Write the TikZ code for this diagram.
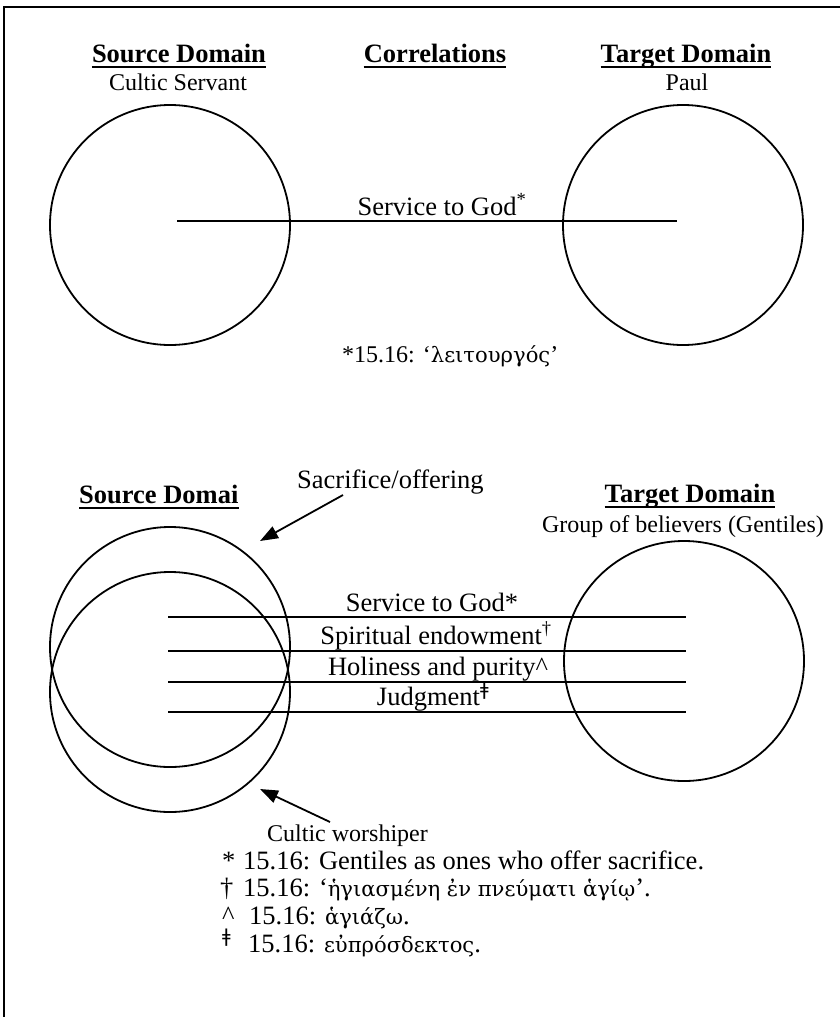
\documentclass[tikz,border=0pt]{standalone}
\usepackage{fontspec}
\setmainfont{Liberation Serif}
\newfontfamily\grk{DejaVu Serif}[Scale=0.88]
\newfontfamily\symfont{DejaVu Sans}
\newcommand\caret{\char"5E\relax}
\newcommand\gk[1]{{\fontsize{24}{28}\selectfont\grk #1}}
\usetikzlibrary{arrows.meta}

\begin{document}
\begin{tikzpicture}[x=1pt,y=-1pt,
  hdr/.style={font=\fontsize{26.5}{30}\selectfont\bfseries, inner sep=0pt, anchor=base},
  subhdr/.style={font=\fontsize{24}{28}\selectfont, inner sep=0pt, anchor=base},
  corr/.style={font=\fontsize{26.5}{30}\selectfont, inner sep=0pt, anchor=base},
  note/.style={font=\fontsize{26.5}{30}\selectfont, inner sep=0pt, anchor=base west},
  smallnote/.style={font=\fontsize{24}{28}\selectfont, inner sep=0pt, anchor=base west},
  ring/.style={draw, circle, minimum size=240pt, line width=1.8pt, inner sep=0pt},
  link/.style={line width=2.4pt},
  pointer/.style={line width=1.8pt, -{Triangle[length=18pt,width=13pt]}},
  uline/.style={line width=2pt}
]
\useasboundingbox (0,0) rectangle (840,1017);

% frame (left and top edges)
\draw[line width=2pt] (4,1017) -- (4,7) -- (840,7);

% ---------- upper mapping ----------
\node[hdr] (srcA) at (179,62) {Source Domain};
\draw[uline] ([yshift=-5pt]srcA.base west) -- ([yshift=-5pt]srcA.base east);
\node[subhdr] (srcAsub) at (178,90) {Cultic Servant};

\node[hdr] (corrA) at (435,62) {Correlations};
\draw[uline] ([yshift=-5pt]corrA.base west) -- ([yshift=-5pt]corrA.base east);

\node[hdr] (tgtA) at (686,62) {Target Domain};
\draw[uline] ([yshift=-5pt]tgtA.base west) -- ([yshift=-5pt]tgtA.base east);
\node[subhdr] (tgtAsub) at (687,90) {Paul};

\node[ring] (cultic) at (170,225) {};
\node[ring] (paul) at (683,225) {};

\coordinate (la) at (177,221);
\coordinate (lb) at (677,221);
\draw[link] (la) -- (lb);
\node[corr] (svcA) at (442,215) {Service to God\textsuperscript{*}};

\node[smallnote] (noteA) at (342,362) {*15.16: ‘{\grk λειτουργός}’};

% ---------- lower mapping ----------
\node[hdr, anchor=base west] (srcB) at (79,503) {Source Domai};
\draw[uline] ([yshift=-5pt]srcB.base west) -- ([yshift=-5pt]srcB.base east);

\node[note] (sacr) at (297,488) {Sacrifice/offering};
\coordinate (sacrTail) at (343,495);
\coordinate (sacrTip) at (260,541);
\draw[pointer] (sacrTail) -- (sacrTip);

\node[hdr] (tgtB) at (690,502) {Target Domain};
\draw[uline] ([yshift=-5pt]tgtB.base west) -- ([yshift=-5pt]tgtB.base east);
\node[subhdr] (tgtBsub) at (683,532) {Group of believers (Gentiles)};

\node[ring] (offering) at (170,647) {};
\node[ring] (worshiper) at (170,692) {};
\node[ring] (gentiles) at (684,661) {};

\foreach \yy/\nm in {617/1,651/2,682/3,712/4}{
  \coordinate (p\nm) at (168,\yy);
  \coordinate (q\nm) at (686,\yy);
  \draw[link] (p\nm) -- (q\nm);
}
\node[corr] (c1) at (432,611) {Service to God*};
\node[corr] (c2) at (436,644) {Spiritual endowment\textsuperscript{†}};
\node[corr] (c3) at (438,675) {Holiness and purity\caret};
\node[corr] (c4) at (433,705) {Judgment\textsuperscript{\symfont ǂ}};

\coordinate (wTail) at (330,822);
\coordinate (wTip) at (260,789);
\draw[pointer] (wTail) -- (wTip);
\node[smallnote] (wors) at (267,841) {Cultic worshiper};

% footnotes
\node[note] (n1) at (222,869) {\makebox[21pt][l]{*}15.16: Gentiles as ones who offer sacrifice.};
\node[note] (n2) at (220,896) {\makebox[23pt][l]{†}15.16: ‘\gk{ἡγιασμένη ἐν πνεύματι ἁγίῳ}’.};
\node[note] (n3) at (222,924) {\makebox[27pt][l]{\caret}15.16: \gk{ἁγιάζω}.};
\node[note] (n4) at (222,952) {\makebox[26pt][l]{\textsuperscript{\symfont ǂ}}15.16: \gk{εὐπρόσδεκτος}.};
\end{tikzpicture}
\end{document}
